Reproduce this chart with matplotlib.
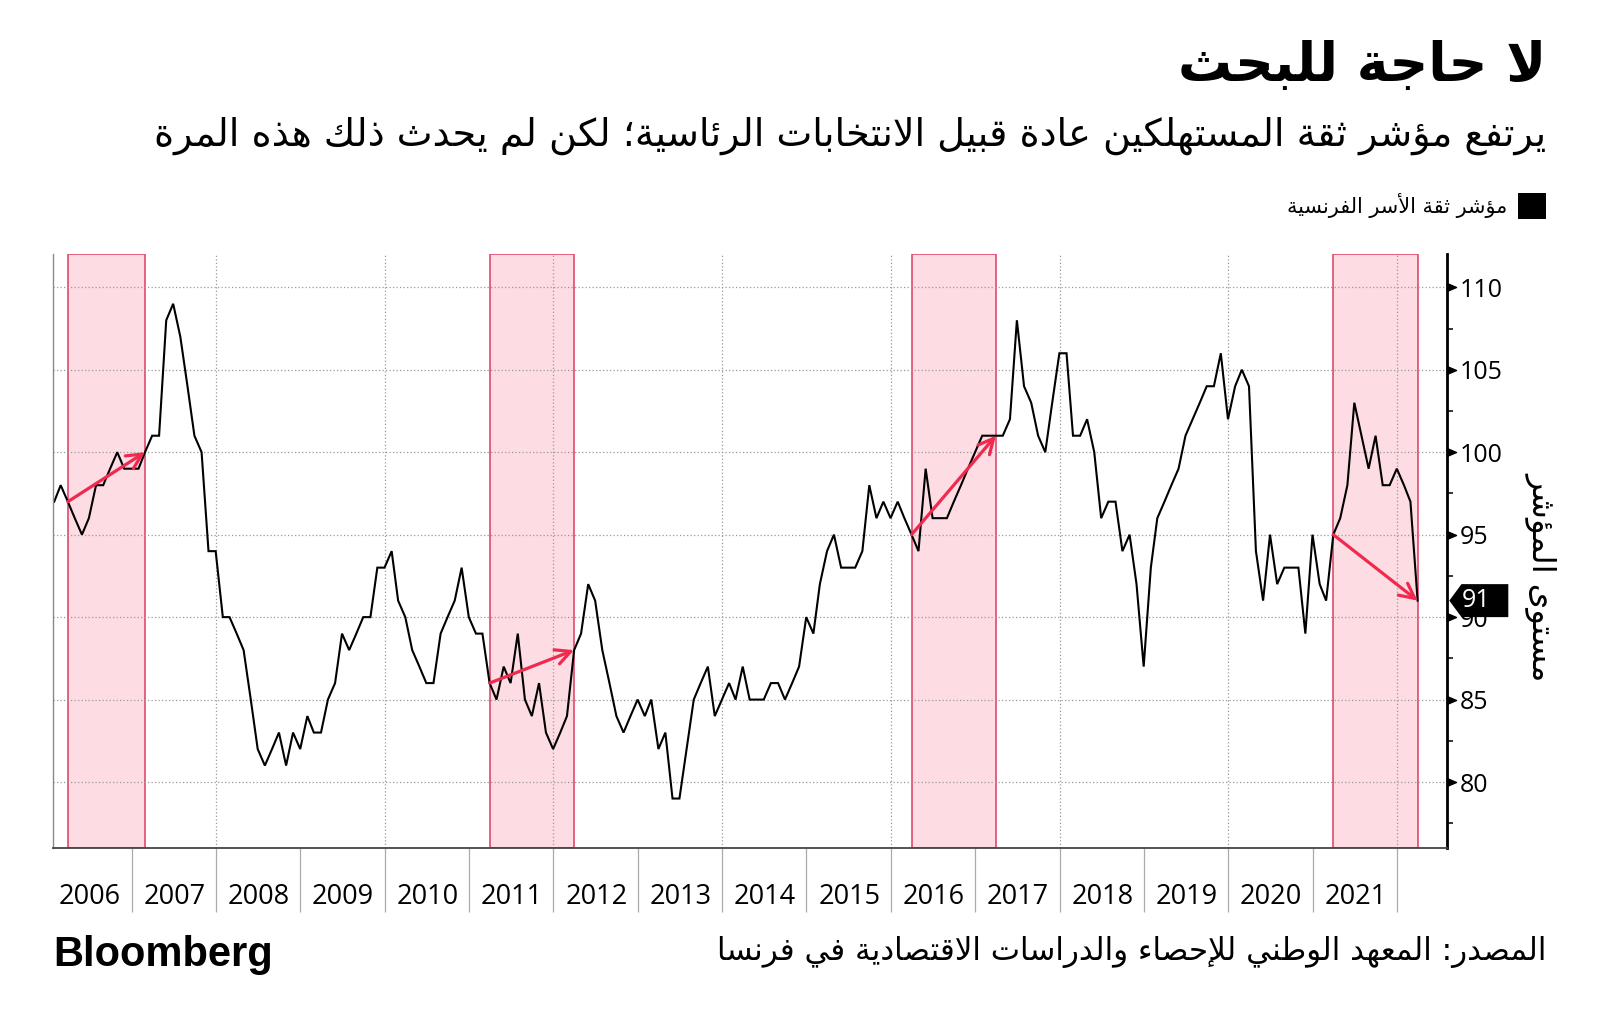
import matplotlib
matplotlib.use("Agg")
import matplotlib.pyplot as plt
import matplotlib.transforms as mtransforms
from matplotlib.patches import Polygon, Rectangle
from matplotlib.path import Path
import numpy as np
import pandas as pd

# ---------------- data ----------------
start_month = "2006-01-31"
values = [97, 98, 97, 96, 95, 96, 98, 98, 99, 100, 99, 99,
          99, 100, 101, 101, 108, 109, 107, 104, 101, 100, 94, 94,
          90, 90, 89, 88, 85, 82, 81, 82, 83, 81, 83, 82,
          84, 83, 83, 85, 86, 89, 88, 89, 90, 90, 93, 93,
          94, 91, 90, 88, 87, 86, 86, 89, 90, 91, 93, 90,
          89, 89, 86, 85, 87, 86, 89, 85, 84, 86, 83, 82,
          83, 84, 88, 89, 92, 91, 88, 86, 84, 83, 84, 85,
          84, 85, 82, 83, 79, 79, 82, 85, 86, 87, 84, 85,
          86, 85, 87, 85, 85, 85, 86, 86, 85, 86, 87, 90,
          89, 92, 94, 95, 93, 93, 93, 94, 98, 96, 97, 96,
          97, 96, 95, 94, 99, 96, 96, 96, 97, 98, 99, 100,
          101, 101, 101, 101, 102, 108, 104, 103, 101, 100, 103, 106,
          106, 101, 101, 102, 100, 96, 97, 97, 94, 95, 92, 87,
          93, 96, 97, 98, 99, 101, 102, 103, 104, 104, 106, 102,
          104, 105, 104, 94, 91, 95, 92, 93, 93, 93, 89, 95,
          92, 91, 95, 96, 98, 103, 101, 99, 101, 98, 98, 99,
          98, 97, 91]
shade_starts = ["2006-03-31", "2011-03-31", "2016-03-31", "2021-03-31"]
shade_ends = ["2007-02-28", "2012-03-31", "2017-03-31", "2022-03-31"]
label_years = list(range(2006, 2022))
tick_years = list(range(2007, 2023))
grid_years = list(range(2008, 2023, 2))
y_major = [80, 85, 90, 95, 100, 105, 110]

title = "لا حاجة للبحث"
subtitle = "يرتفع مؤشر ثقة المستهلكين عادة قبيل الانتخابات الرئاسية؛ لكن لم يحدث ذلك هذه المرة"
legend_label = "مؤشر ثقة الأسر الفرنسية"
y_label = "مستوى المؤشر"
source = "المصدر: المعهد الوطني للإحصاء والدراسات الاقتصادية في فرنسا"
brand = "Bloomberg"

# ---------------- Arabic shaping (presentation forms + visual order) ----------------
FORMS = {
    '\u0621': ('\uFE80',),
    '\u0622': ('\uFE81', '\uFE82'),
    '\u0623': ('\uFE83', '\uFE84'),
    '\u0624': ('\uFE85', '\uFE86'),
    '\u0625': ('\uFE87', '\uFE88'),
    '\u0626': ('\uFE89', '\uFE8A', '\uFE8B', '\uFE8C'),
    '\u0627': ('\uFE8D', '\uFE8E'),
    '\u0628': ('\uFE8F', '\uFE90', '\uFE91', '\uFE92'),
    '\u0629': ('\uFE93', '\uFE94'),
    '\u062A': ('\uFE95', '\uFE96', '\uFE97', '\uFE98'),
    '\u062B': ('\uFE99', '\uFE9A', '\uFE9B', '\uFE9C'),
    '\u062C': ('\uFE9D', '\uFE9E', '\uFE9F', '\uFEA0'),
    '\u062D': ('\uFEA1', '\uFEA2', '\uFEA3', '\uFEA4'),
    '\u062E': ('\uFEA5', '\uFEA6', '\uFEA7', '\uFEA8'),
    '\u062F': ('\uFEA9', '\uFEAA'),
    '\u0630': ('\uFEAB', '\uFEAC'),
    '\u0631': ('\uFEAD', '\uFEAE'),
    '\u0632': ('\uFEAF', '\uFEB0'),
    '\u0633': ('\uFEB1', '\uFEB2', '\uFEB3', '\uFEB4'),
    '\u0634': ('\uFEB5', '\uFEB6', '\uFEB7', '\uFEB8'),
    '\u0635': ('\uFEB9', '\uFEBA', '\uFEBB', '\uFEBC'),
    '\u0636': ('\uFEBD', '\uFEBE', '\uFEBF', '\uFEC0'),
    '\u0637': ('\uFEC1', '\uFEC2', '\uFEC3', '\uFEC4'),
    '\u0638': ('\uFEC5', '\uFEC6', '\uFEC7', '\uFEC8'),
    '\u0639': ('\uFEC9', '\uFECA', '\uFECB', '\uFECC'),
    '\u063A': ('\uFECD', '\uFECE', '\uFECF', '\uFED0'),
    '\u0641': ('\uFED1', '\uFED2', '\uFED3', '\uFED4'),
    '\u0642': ('\uFED5', '\uFED6', '\uFED7', '\uFED8'),
    '\u0643': ('\uFED9', '\uFEDA', '\uFEDB', '\uFEDC'),
    '\u0644': ('\uFEDD', '\uFEDE', '\uFEDF', '\uFEE0'),
    '\u0645': ('\uFEE1', '\uFEE2', '\uFEE3', '\uFEE4'),
    '\u0646': ('\uFEE5', '\uFEE6', '\uFEE7', '\uFEE8'),
    '\u0647': ('\uFEE9', '\uFEEA', '\uFEEB', '\uFEEC'),
    '\u0648': ('\uFEED', '\uFEEE'),
    '\u0649': ('\uFEEF', '\uFEF0'),
    '\u064A': ('\uFEF1', '\uFEF2', '\uFEF3', '\uFEF4'),
}
LAM_ALEF = {'\u0622': ('\uFEF5', '\uFEF6'), '\u0623': ('\uFEF7', '\uFEF8'),
            '\u0625': ('\uFEF9', '\uFEFA'), '\u0627': ('\uFEFB', '\uFEFC')}


def _dual(ch):
    return ch is not None and ch in FORMS and len(FORMS[ch]) == 4


def _joining(ch):
    return ch is not None and ch in FORMS and len(FORMS[ch]) > 1


def ar(s):
    out = []
    n = len(s)
    i = 0
    while i < n:
        c = s[i]
        if c not in FORMS:
            out.append(c)
            i += 1
            continue
        prev = s[i - 1] if i > 0 else None
        join_prev = _dual(prev) and _joining(c)
        if c == '\u0644' and i + 1 < n and s[i + 1] in LAM_ALEF:
            out.append(LAM_ALEF[s[i + 1]][1 if join_prev else 0])
            i += 2
            continue
        nxt = s[i + 1] if i + 1 < n else None
        f = FORMS[c]
        join_next = len(f) == 4 and _joining(nxt)
        if len(f) == 1:
            out.append(f[0])
        elif join_prev and join_next:
            out.append(f[3])
        elif join_prev:
            out.append(f[1])
        elif join_next:
            out.append(f[2])
        else:
            out.append(f[0])
        i += 1
    return ''.join(out)[::-1]


# ---------------- figure ----------------
W, H = 1600, 1032
fig = plt.figure(figsize=(W / 100, H / 100), dpi=100)
renderer = fig.canvas.get_renderer()


def fx(x):
    return x / W


def fy(y):
    return 1 - y / H


ax_l, ax_r, ax_t, ax_b = 53.3, 1446.7, 254.3, 848.0
ax = fig.add_axes([fx(ax_l), fy(ax_b), (ax_r - ax_l) / W, (ax_b - ax_t) / H])

dates = pd.date_range(start=start_month, periods=len(values), freq=pd.offsets.MonthEnd())
series = pd.Series(values, index=dates)

AR_FONT = ["DejaVu Sans"]
NUM_FONT = ["Open Sans", "DejaVu Sans"]

shade_fill = "#fddce3"
shade_edge = "#e04a6c"
arrow_col = "#ef2a4e"
grid_col = "#9a9a9a"
grid_ls = (0, (1.0, 1.8))

for s0, s1 in zip(shade_starts, shade_ends):
    d0, d1 = pd.Timestamp(s0), pd.Timestamp(s1)
    ax.axvspan(d0, d1, facecolor=shade_fill, edgecolor=shade_edge, lw=1.2, zorder=0.2)

ax.plot(series.index, series.values, color="black", lw=1.5, zorder=2, solid_joinstyle="miter")

for s0, s1 in zip(shade_starts, shade_ends):
    d0, d1 = pd.Timestamp(s0), pd.Timestamp(s1)
    ax.annotate("", xy=(d1, series[d1]), xytext=(d0, series[d0]),
                arrowprops=dict(arrowstyle="->", color=arrow_col, lw=2.3,
                                mutation_scale=27, shrinkA=0, shrinkB=0),
                zorder=3)

# grid
for y in y_major:
    ax.axhline(y, color=grid_col, lw=0.9, ls=grid_ls, zorder=0.5)
for yr in grid_years:
    ax.axvline(pd.Timestamp(f"{yr}-01-01"), color=grid_col, lw=0.9, ls=grid_ls, zorder=0.5)

# spines
ax.spines["top"].set_visible(False)
ax.spines["left"].set_color("#8a8a8a")
ax.spines["left"].set_linewidth(1.0)
ax.spines["bottom"].set_color("#444444")
ax.spines["bottom"].set_linewidth(1.3)
ax.spines["right"].set_color("black")
ax.spines["right"].set_linewidth(2.0)

# x ticks: year boundaries, long gray
ax.set_xticks([pd.Timestamp(f"{y}-01-01") for y in tick_years])
ax.set_xticklabels([])
ax.tick_params(axis="x", which="major", length=46, width=0.9, color="#aaaaaa", direction="out")

# limits (after ticks so they are not widened)
ax.set_xlim(pd.Timestamp("2006-01-27"), pd.Timestamp("2022-08-04"))
ax.set_ylim(76, 112)

btrans = mtransforms.blended_transform_factory(ax.transData, ax.transAxes)
label_y = (ax_b - 897.0) / (ax_b - ax_t)
for yr in label_years:
    ax.text(pd.Timestamp(f"{yr}-07-05"), label_y, str(yr), transform=btrans,
            ha="center", va="center", fontsize=19.5, family=NUM_FONT, color="black")

# y ticks on right
ax.yaxis.tick_right()
ax.set_yticks(y_major)
ax.set_yticklabels([str(v) for v in y_major], family=NUM_FONT, fontsize=18)
ax.set_yticks(np.arange(77.5, 112, 5), minor=True)
ax.tick_params(axis="y", which="major", length=0, pad=9.6, labelcolor="black")
ax.tick_params(axis="y", which="minor", length=4, width=1.1, color="black", direction="out")
ax.tick_params(axis="y", which="both", left=False)
ax.set_ylim(76, 112)

tri = Path([[0, -0.85], [2, 0], [0, 0.85], [0, -0.85]],
           [Path.MOVETO, Path.LINETO, Path.LINETO, Path.CLOSEPOLY])
rtrans = mtransforms.blended_transform_factory(ax.transAxes, ax.transData)
ax.plot([1.0] * len(y_major), y_major, ls="none", marker=tri, markersize=13,
        color="black", transform=rtrans, clip_on=False, zorder=5)

# last value flag
last_val = values[-1]
axw = ax_r - ax_l
px = lambda p: 1 + (p - ax_r) / axw
flag = Polygon([[px(1449.3), last_val], [px(1461.5), last_val + 1], [px(1508.3), last_val + 1],
                [px(1508.3), last_val - 1], [px(1461.5), last_val - 1]],
               closed=True, facecolor="black", edgecolor="none", transform=rtrans,
               clip_on=False, zorder=6)
ax.add_patch(flag)
ax.text(px(1476.5), last_val, f"{last_val}", transform=rtrans, ha="center", va="center",
        color="white", fontsize=18, family=NUM_FONT, zorder=7)


def fit_width(t, target):
    bb = t.get_window_extent(renderer)
    t.set_fontsize(t.get_fontsize() * target / bb.width)


def fit_height(t, target):
    bb = t.get_window_extent(renderer)
    t.set_fontsize(t.get_fontsize() * target / bb.height)


# y-axis title (rotated)
yl = fig.text(fx(1542), fy(576), ar(y_label), rotation=270, ha="center", va="center",
              fontsize=20, family=AR_FONT, color="black")
fit_height(yl, 208)

# title + subtitle
t1 = fig.text(fx(1546), fy(66), ar(title), ha="right", va="center", fontsize=40,
              family=AR_FONT, fontweight="bold", color="black")
fit_width(t1, 368)
t2 = fig.text(fx(1546), fy(136), ar(subtitle), ha="right", va="center", fontsize=24,
              family=AR_FONT, color="black")
fit_width(t2, 1400)

# legend
fig.patches.append(Rectangle((fx(1518), fy(219)), (1546 - 1518) / W, 26 / H,
                             transform=fig.transFigure, facecolor="black", edgecolor="none"))
t3 = fig.text(fx(1507), fy(206), ar(legend_label), ha="right", va="center", fontsize=15,
              family=AR_FONT, color="black")
fit_width(t3, 221)

# footer
t4 = fig.text(fx(1546), fy(952), ar(source), ha="right", va="center", fontsize=20,
              family=AR_FONT, color="black")
fit_width(t4, 830)
t5 = fig.text(fx(53), fy(955), brand, ha="left", va="center", fontsize=28,
              family=["Liberation Sans", "DejaVu Sans"], fontweight="heavy", color="black")
fit_width(t5, 220)

fig.savefig("out.png", dpi=100, facecolor="white")
